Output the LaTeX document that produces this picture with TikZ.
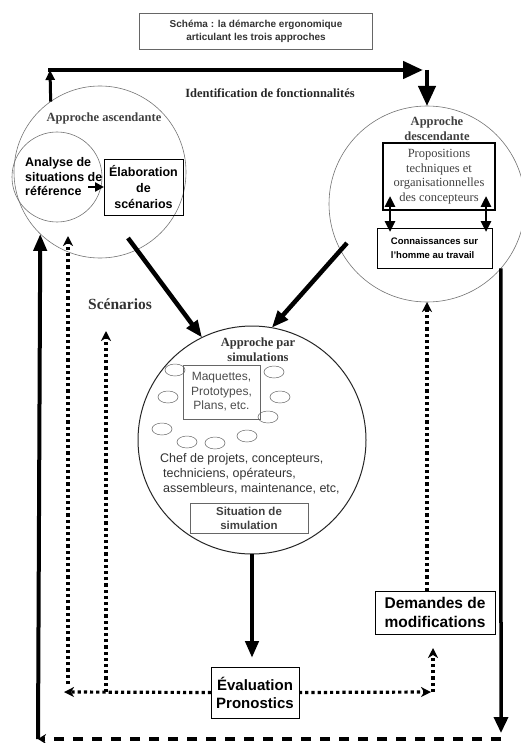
\documentclass[tikz,border=0pt]{standalone}
\usepackage{fontspec}
\setmainfont{Liberation Serif}
\setsansfont{Liberation Sans}
\usetikzlibrary{arrows.meta,shapes.geometric}

\begin{document}
\begin{tikzpicture}
  [x=1pt,y=-1pt,
   box/.style={draw,inner sep=2pt,outer sep=0pt,align=center,font=\sffamily\bfseries},
   ring/.style={circle,draw=black!55,line width=.6pt,inner sep=0pt,outer sep=0pt},
   hd/.style={font=\bfseries\fontsize{12.5}{15}\selectfont,align=center,text=black!75},
   fat/.style={line width=4.5pt,-{Triangle[length=17pt,width=13pt]}},
   dots/.style={line width=3.2pt,dash pattern=on 3.2pt off 3pt,-{Stealth[length=10pt,width=10pt,inset=3pt]}},
   blob/.style={ellipse,draw=black!60,line width=.5pt,minimum width=20pt,minimum height=12pt,inner sep=0pt}]
  \useasboundingbox (0,0) rectangle (520,743);
  % title
  \node[box,draw=black!60,line width=.6pt,minimum width=233pt,minimum height=36pt,
        font=\sffamily\bfseries\fontsize{10}{13}\selectfont,text=black!80] (ti) at (256,31)
        {Schéma : la démarche ergonomique\\articulant les trois approches};
  \node[hd,text=black!85] (id) at (270,93) {Identification de fonctionnalités};
  % approche ascendante
  \node[ring,minimum size=172pt] (ca) at (100,172) {};
  \node[ring,minimum size=90pt] (ci) at (57,177) {};
  \node[hd] (ta) at (104,118) {Approche ascendante};
  \node[font=\sffamily\bfseries\fontsize{12.5}{14.5}\selectfont,align=left,anchor=west,inner sep=0pt] (an) at (25,177)
        {Analyse de\\situations de\\référence};
  \node[box,font=\sffamily\bfseries\fontsize{12.5}{16}\selectfont,line width=.6pt,minimum width=79pt,minimum height=56pt] (el) at (143.5,187)
        {Élaboration\\de\\scénarios};
  \coordinate (ar) at (88,187);
  \draw[line width=2.4pt,-{Triangle[length=9pt,width=9pt]}] (ar) -- (el.west);
  % approche descendante
  \node[ring,minimum size=196pt] (cd) at (427,204) {};
  \node[hd] (td) at (437,129) {Approche\\descendante};
  \node[box,font=\fontsize{12.5}{14.5}\selectfont,text=black!75,line width=1.2pt,minimum width=112pt,minimum height=67pt] (pr) at (439,176.5)
        {Propositions\\techniques et\\organisationnelles\\des concepteurs};
  \node[box,font=\sffamily\bfseries\fontsize{9.5}{14}\selectfont,align=left,line width=.6pt,minimum width=115pt,minimum height=40pt] (co) at (434.5,248)
        {Connaissances sur\\l'homme au travail};
  \coordinate (k1) at (390,196); \coordinate (k2) at (390,232);
  \coordinate (k3) at (486,196); \coordinate (k4) at (486,232);
  \foreach \from/\to in {k1/k2,k3/k4}
    \draw[line width=2.6pt,{Triangle[length=11pt,width=10pt]}-{Triangle[length=11pt,width=10pt]}] (\from) -- (\to);
  % approche par simulations
  \node[ring,draw=black!85,line width=1pt,minimum size=228pt] (cs) at (252,440) {};
  \node[hd,text=black!80] (ts) at (258,349.5) {Approche par\\simulations};
  \node[box,font=\sffamily\fontsize{12}{14.5}\selectfont,text=black!70,draw=black!60,line width=.6pt,minimum width=77pt,minimum height=54pt] (mq) at (221.5,392)
        {Maquettes,\\Prototypes,\\Plans, etc.};
  \foreach \bx/\by [count=\i] in {175/370,274/372,168/397,280/397,268/417,162/429,187/442,215/443,247/436}
    \node[blob] (bl\i) at (\bx,\by) {};
  \node[font=\sffamily\fontsize{12.5}{15}\selectfont,align=left,text=black!80,anchor=west,inner sep=0pt] (ch) at (160,474)
        {Chef de projets, concepteurs,\\\hspace{3pt}techniciens, opérateurs,\\\hspace{3pt}assembleurs, maintenance, etc,};
  \node[box,font=\sffamily\bfseries\fontsize{11.5}{14}\selectfont,text=black!75,draw=black!60,line width=.6pt,minimum width=118pt,minimum height=30pt] (si) at (249,518)
        {Situation de\\simulation};
  % evaluation et demandes
  \node[box,font=\sffamily\bfseries\fontsize{15}{18}\selectfont,line width=.8pt,minimum width=88pt,minimum height=51pt] (ev) at (255,692.5)
        {Évaluation\\Pronostics};
  \node[box,font=\sffamily\bfseries\fontsize{15.5}{19}\selectfont,line width=.8pt,minimum width=120pt,minimum height=43pt] (dm) at (435,612.5)
        {Demandes de\\modifications};
  \node[font=\bfseries\fontsize{15.5}{18}\selectfont,text=black!80] (sc) at (120,304) {Scénarios};
  % identification de fonctionnalites
  \coordinate (tl) at (50,70); \coordinate (tr) at (423,70);
  \draw[line width=3pt,-{Triangle[length=10pt,width=9pt]}] (ca.125.5) -- (tl);
  \draw[line width=4.5pt,line cap=rect,-{Triangle[length=20pt,width=17pt]}] (tl) -- (tr);
  \draw[line width=4pt,-{Triangle[length=20pt,width=17pt]}] (tr -| cd.north) -- (cd.north);
  % vers la simulation
  \coordinate (sa) at (128,238); \coordinate (sd) at (347,243);
  \draw[fat] (sa) -- (cs.116);
  \draw[fat] (sd) -- (cs.80);
  \draw[fat,shorten >=9pt] (cs.south) -- (cs.south |- ev.north);
  % retours
  \coordinate (dl) at (64,692); \coordinate (v1) at (68,684); \coordinate (v1t) at (68,236);
  \coordinate (v2) at (106,692); \coordinate (v2t) at (106,331);
  \coordinate (dr) at (431,692); \coordinate (v3) at (433,692); \coordinate (v3t) at (433,648);
  \foreach \from/\to in {ev.west/dl,v1/v1t,v2/v2t,ev.east/dr,v3/v3t}
    \draw[dots] (\from) -- (\to);
  \draw[dots] (dm.north -| cd.south) -- (cd.south);
  % boucle
  \coordinate (rb) at (501,733); \coordinate (br) at (501,739); \coordinate (bl) at (38,739);
  \draw[line width=3.5pt,-{Triangle[length=16pt,width=14pt]}] (cd.-41) -- (rb);
  \draw[line width=4pt,dash pattern=on 10pt off 9pt,-{Stealth[length=8pt,width=10pt]}] (br) -- (bl);
  \draw[line width=4pt,-{Triangle[length=17pt,width=13pt]}] (bl) -- (ca.226);
\end{tikzpicture}
\end{document}
